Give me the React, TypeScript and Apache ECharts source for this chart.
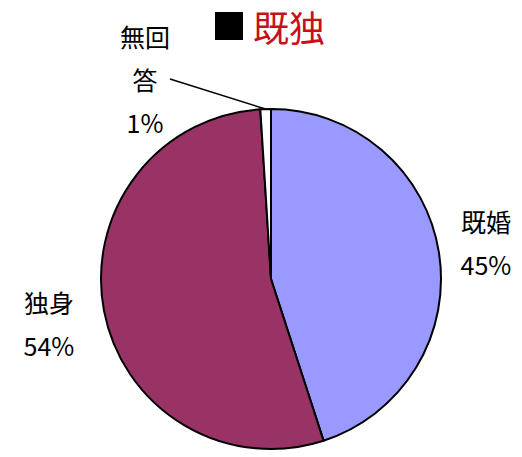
import React, { useEffect, useRef } from "react";
import * as echarts from "echarts";

const categories = ["既婚", "独身", "無回答"];
const values = [45, 54, 1];
const colors = ["#9999FF", "#993366", "#FFFFFF"];
const titleText = "既独";

export default function App() {
  const ref = useRef<HTMLDivElement>(null);
  useEffect(() => {
    if (!ref.current) return;
    const chart = echarts.init(ref.current, null, { renderer: "svg" });
    const labelPos: Record<number, [number, number]> = {
      0: [486, 242],
      1: [49, 323],
      2: [145, 79],
    };
    const font = '"Noto Sans CJK JP", "Noto Sans", sans-serif';
    chart.setOption({
      animation: false,
      backgroundColor: "#ffffff",
      graphic: [
        {
          type: "rect",
          shape: { x: 215, y: 12, width: 28, height: 28 },
          style: { fill: "#000000" },
        },
        {
          type: "text",
          x: 253,
          y: 26,
          style: {
            text: titleText,
            fill: "#c8101c",
            font: `36px ${font}`,
            verticalAlign: "middle",
          },
        },
      ],
      series: [
        {
          type: "pie",
          center: [271, 279],
          radius: 170,
          startAngle: 90,
          clockwise: true,
          avoidLabelOverlap: false,
          itemStyle: { borderColor: "#000000", borderWidth: 2 },
          label: {
            show: true,
            position: "outside",
            color: "#000000",
            fontFamily: font,
            fontSize: 25,
            lineHeight: 43,
            align: "center",
            formatter: (p: any) => {
              const n: string = p.name;
              const parts: string[] = [];
              for (let i = 0; i < n.length; i += 2) parts.push(n.slice(i, i + 2));
              return parts.join("\n") + "\n" + p.value + "%";
            },
          },
          labelLine: { show: false },
          labelLayout: (params: any) => {
            const pos = labelPos[params.dataIndex];
            return { x: pos[0], y: pos[1], align: "center", verticalAlign: "middle" };
          },
          data: categories.map((c, i) => ({
            name: c,
            value: values[i],
            itemStyle: { color: colors[i] },
            labelLine:
              i === 2
                ? { show: true, length: 0, length2: 0, lineStyle: { color: "#000", width: 1.5 } }
                : { show: false },
          })),
        },
      ],
    });
    return () => chart.dispose();
  }, []);
  return (
    <div
      ref={ref}
      style={{ position: "fixed", left: 0, top: 0, width: 522, height: 457 }}
    />
  );
}
